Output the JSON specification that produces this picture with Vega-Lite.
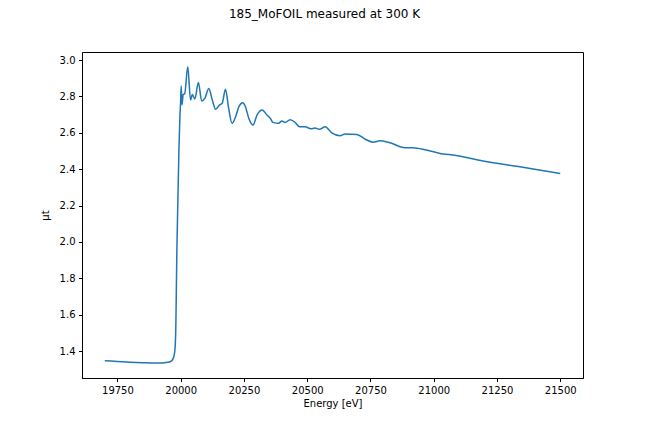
{
  "$schema": "https://vega.github.io/schema/vega-lite/v6.json",
  "width": 501,
  "height": 326,
  "autosize": {"type": "none"},
  "padding": {"left": 82, "top": 52, "right": 65, "bottom": 54},
  "background": "white",
  "title": {
    "text": "185_MoFOIL measured at 300 K",
    "font": "DejaVu Sans",
    "fontSize": 12,
    "fontWeight": "normal",
    "color": "black",
    "offset": 31,
    "dx": -8
  },
  "config": {
    "view": {"stroke": "black", "strokeWidth": 1},
    "axis": {
      "labelFont": "DejaVu Sans",
      "labelFontSize": 10,
      "labelColor": "black",
      "titleFont": "DejaVu Sans",
      "titleFontSize": 10,
      "titleFontWeight": "normal",
      "titleColor": "black",
      "domainColor": "black",
      "tickColor": "black",
      "tickSize": 3.5,
      "labelPadding": 3.5,
      "grid": false
    }
  },
  "data": {
    "values": [
      {"energy": 19700, "mu": 1.347},
      {"energy": 19750, "mu": 1.343},
      {"energy": 19800, "mu": 1.339},
      {"energy": 19850, "mu": 1.336},
      {"energy": 19900, "mu": 1.334},
      {"energy": 19930, "mu": 1.335},
      {"energy": 19950, "mu": 1.338},
      {"energy": 19964, "mu": 1.346},
      {"energy": 19973, "mu": 1.37},
      {"energy": 19978, "mu": 1.42},
      {"energy": 19981, "mu": 1.55},
      {"energy": 19983, "mu": 1.75},
      {"energy": 19985, "mu": 1.955},
      {"energy": 19989, "mu": 2.23},
      {"energy": 19993, "mu": 2.505},
      {"energy": 19997, "mu": 2.69},
      {"energy": 20000, "mu": 2.78},
      {"energy": 20002, "mu": 2.857},
      {"energy": 20005, "mu": 2.753},
      {"energy": 20010, "mu": 2.81},
      {"energy": 20016, "mu": 2.815},
      {"energy": 20028, "mu": 2.963},
      {"energy": 20039, "mu": 2.78},
      {"energy": 20046, "mu": 2.81},
      {"energy": 20056, "mu": 2.786},
      {"energy": 20070, "mu": 2.877},
      {"energy": 20083, "mu": 2.775},
      {"energy": 20096, "mu": 2.79},
      {"energy": 20111, "mu": 2.844},
      {"energy": 20125, "mu": 2.78},
      {"energy": 20138, "mu": 2.729},
      {"energy": 20154, "mu": 2.753},
      {"energy": 20164, "mu": 2.762},
      {"energy": 20177, "mu": 2.839},
      {"energy": 20189, "mu": 2.74},
      {"energy": 20203, "mu": 2.652},
      {"energy": 20217, "mu": 2.688},
      {"energy": 20230, "mu": 2.743},
      {"energy": 20245, "mu": 2.765},
      {"energy": 20256, "mu": 2.743},
      {"energy": 20269, "mu": 2.68},
      {"energy": 20286, "mu": 2.643},
      {"energy": 20302, "mu": 2.698},
      {"energy": 20322, "mu": 2.725},
      {"energy": 20341, "mu": 2.698},
      {"energy": 20354, "mu": 2.68},
      {"energy": 20365, "mu": 2.657},
      {"energy": 20387, "mu": 2.652},
      {"energy": 20400, "mu": 2.665},
      {"energy": 20413, "mu": 2.657},
      {"energy": 20433, "mu": 2.672},
      {"energy": 20453, "mu": 2.656},
      {"energy": 20470, "mu": 2.633},
      {"energy": 20492, "mu": 2.633},
      {"energy": 20514, "mu": 2.622},
      {"energy": 20531, "mu": 2.626},
      {"energy": 20548, "mu": 2.619},
      {"energy": 20571, "mu": 2.633},
      {"energy": 20597, "mu": 2.6},
      {"energy": 20630, "mu": 2.584},
      {"energy": 20650, "mu": 2.593},
      {"energy": 20696, "mu": 2.591},
      {"energy": 20728, "mu": 2.566},
      {"energy": 20761, "mu": 2.548},
      {"energy": 20787, "mu": 2.556},
      {"energy": 20827, "mu": 2.545},
      {"energy": 20886, "mu": 2.518},
      {"energy": 20918, "mu": 2.518},
      {"energy": 20971, "mu": 2.505},
      {"energy": 21037, "mu": 2.483},
      {"energy": 21076, "mu": 2.478},
      {"energy": 21194, "mu": 2.445},
      {"energy": 21352, "mu": 2.41},
      {"energy": 21500, "mu": 2.376}
    ]
  },
  "mark": {"type": "line", "color": "#1f77b4", "strokeWidth": 1.5, "interpolate": "monotone"},
  "encoding": {
    "x": {
      "field": "energy",
      "type": "quantitative",
      "title": "Energy [eV]",
      "scale": {"domain": [19610, 21590], "nice": false, "zero": false},
      "axis": {"values": [19750, 20000, 20250, 20500, 20750, 21000, 21250, 21500], "format": "d", "titlePadding": 3}
    },
    "y": {
      "field": "mu",
      "type": "quantitative",
      "title": "μt",
      "scale": {"domain": [1.252, 3.044], "nice": false, "zero": false},
      "axis": {"values": [1.4, 1.6, 1.8, 2.0, 2.2, 2.4, 2.6, 2.8, 3.0], "format": ".1f", "titlePadding": 9}
    }
  }
}
